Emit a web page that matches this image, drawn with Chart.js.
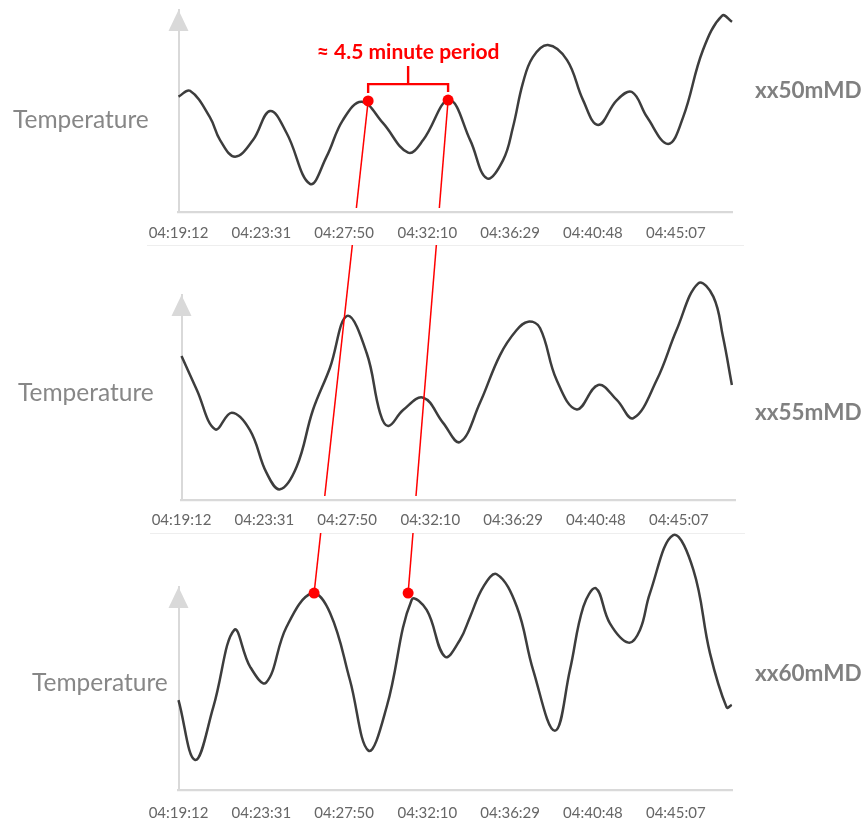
<!DOCTYPE html>
<html>
<head>
<meta charset="utf-8">
<title>Temperature oscillation at three depths</title>
<script src="https://cdn.jsdelivr.net/npm/chart.js@4.4.1/dist/chart.umd.min.js"></script>
<style>
  html, body { margin: 0; padding: 0; background: #fff; }
  #stage { position: relative; width: 865px; height: 822px; overflow: hidden; background: #fff; }
  #stage canvas { position: absolute; left: 0; }
  .ytitle { position: absolute; font-family: Lato, "Open Sans", sans-serif; font-size: 24.5px; color: #878787; line-height: 1; white-space: nowrap; }
  .series { position: absolute; font-family: Lato, "Open Sans", sans-serif; font-weight: bold; font-size: 22.5px; color: #808080; line-height: 1; white-space: nowrap; }
  .sep { position: absolute; height: 1px; background: #eeeeee; }
  #links { pointer-events: none; }
</style>
</head>
<body>
<div id="stage">
  <div class="sep" style="left:147px; top:245px; width:597px;"></div>
  <div class="sep" style="left:150px; top:533px; width:595px;"></div>
  <canvas id="c1" width="865" height="245" style="top:0px"></canvas>
  <canvas id="c2" width="865" height="285" style="top:245px"></canvas>
  <canvas id="c3" width="865" height="289" style="top:533px"></canvas>
  <canvas id="links" width="865" height="822" style="top:0px"></canvas>
  <div class="ytitle" style="left:13px; top:107px;">Temperature</div>
  <div class="ytitle" style="left:18px; top:380px;">Temperature</div>
  <div class="ytitle" style="left:32px; top:670px;">Temperature</div>
  <div class="series" style="left:755px; top:79px;">xx50mMD</div>
  <div class="series" style="left:755px; top:401px;">xx55mMD</div>
  <div class="series" style="left:755px; top:662px;">xx60mMD</div>
</div>
<script>
// Time axis: elapsed seconds after the first labelled timestamp
const startTime = '04:19:12';
const tickLabels = ['04:19:12', '04:23:31', '04:27:50', '04:32:10', '04:36:29', '04:40:48', '04:45:07'];
const axisEndSecs = 1732;

// xx50mMD sensor (relative temperature units)
const secs50 = [0, 36, 98, 130, 177, 233, 286, 338, 411, 463, 514, 573, 639, 718, 765, 846, 912, 964, 1015, 1046, 1077, 1108, 1155, 1215, 1265, 1312, 1371, 1418, 1465, 1531, 1578, 1640, 1700, 1731];
const temp50 = [57.1, 60.0, 47.0, 35.6, 27.4, 35.6, 50.0, 39.1, 13.9, 27.4, 45.5, 54.6, 44.1, 29.4, 35.6, 55.4, 35.6, 16.7, 25.7, 42.1, 63.9, 76.7, 82.7, 75.2, 55.4, 43.1, 55.4, 59.4, 47.0, 33.7, 47.0, 80.2, 97.2, 94.2];
const peakSecs50 = [593, 843];
const peakTemp50 = [55.0, 55.4];

// xx55mMD sensor
const secs55 = [0, 48, 105, 157, 214, 266, 308, 360, 411, 464, 518, 579, 621, 647, 693, 756, 818, 871, 933, 996, 1048, 1084, 1121, 1173, 1236, 1303, 1361, 1413, 1486, 1548, 1616, 1663, 1693, 1721];
const temp55 = [70.2, 53.7, 34.5, 42.6, 34.1, 13.2, 5.2, 16.2, 43.9, 64.4, 89.8, 71.7, 42.4, 36.1, 43.9, 49.9, 37.6, 28.3, 47.3, 70.7, 82.9, 87.0, 83.9, 58.5, 44.2, 56.1, 48.8, 39.9, 58.5, 82.9, 105.7, 99.2, 79.7, 56.1];

// xx60mMD sensor
const secs60 = [0, 52, 109, 174, 224, 274, 338, 417, 474, 536, 594, 651, 729, 776, 833, 880, 912, 953, 995, 1058, 1109, 1177, 1224, 1266, 1305, 1349, 1407, 1443, 1474, 1547, 1610, 1662, 1714, 1730];
const temp60 = [44.3, 14.8, 41.0, 78.8, 60.7, 52.9, 80.4, 96.9, 87.2, 54.2, 19.4, 41.0, 93.6, 88.7, 65.7, 73.9, 85.4, 100.1, 106.3, 90.3, 59.1, 29.2, 59.1, 90.3, 99.4, 82.1, 72.6, 78.8, 96.9, 125.6, 108.4, 67.3, 40.7, 41.9];
const peakSecs60 = [424, 718];
const peakTemp60 = [97.0, 97.0];

const periodText = '\u2248 4.5 minute period';

// ---------------------------------------------------------------------
function toSecs(hms) {
  const [h, m, s] = hms.split(':').map(Number);
  return h * 3600 + m * 60 + s;
}
const t0 = toSecs(startTime);
const tickSecs = tickLabels.map(l => toSecs(l) - t0);
const pts = (xs, ys) => xs.map((x, i) => ({ x: x, y: ys[i] }));

const LINE_COLOR = '#3d3d3d';
const AXIS_COLOR = '#d9d9d9';
const RED = '#ff0000';

// Light grey arrow head on top of the vertical axis
const axisArrow = {
  id: 'axisArrow',
  afterDraw(chart) {
    const { ctx, chartArea } = chart;
    const x = chartArea.left, y = chartArea.top;
    ctx.save();
    ctx.fillStyle = AXIS_COLOR;
    ctx.beginPath();
    ctx.moveTo(x, y);
    ctx.lineTo(x + 10, y + 21);
    ctx.lineTo(x - 10, y + 21);
    ctx.closePath();
    ctx.fill();
    ctx.restore();
  }
};

// Bracket + caption spanning the two marked peaks of the top panel
const periodBracket = {
  id: 'periodBracket',
  afterDatasetsDraw(chart) {
    const meta = chart.getDatasetMeta(0);
    if (!meta || meta.data.length < 2) return;
    const a = meta.data[0], b = meta.data[1];
    const { ctx } = chart;
    const yb = Math.min(a.y, b.y) - 16;
    const xm = (a.x + b.x) / 2;
    ctx.save();
    ctx.strokeStyle = RED;
    ctx.lineWidth = 2.4;
    ctx.lineJoin = 'miter';
    ctx.beginPath();
    ctx.moveTo(a.x, a.y - 8);
    ctx.lineTo(a.x, yb);
    ctx.lineTo(b.x, yb);
    ctx.lineTo(b.x, b.y - 8);
    ctx.moveTo(xm, yb);
    ctx.lineTo(xm, yb - 18);
    ctx.stroke();
    ctx.fillStyle = RED;
    ctx.font = 'bold 21px Lato, "Open Sans", sans-serif';
    ctx.textAlign = 'center';
    ctx.textBaseline = 'middle';
    ctx.fillText(periodText, xm, yb - 32);
    ctx.restore();
  }
};

function makePanel(canvasId, series, peaks, cfg) {
  const datasets = [];
  if (peaks) {
    datasets.push({
      type: 'scatter',
      data: peaks,
      pointRadius: 5.5,
      pointBackgroundColor: RED,
      pointBorderWidth: 0,
      showLine: false,
      clip: false
    });
  }
  datasets.push({
    type: 'line',
    data: series,
    borderColor: LINE_COLOR,
    borderWidth: 2.5,
    pointRadius: 0,
    tension: 0.4,
    fill: false,
    clip: false
  });
  return new Chart(document.getElementById(canvasId), {
    type: 'line',
    data: { datasets: datasets },
    options: {
      responsive: false,
      animation: false,
      events: [],
      layout: { padding: cfg.padding },
      plugins: { legend: { display: false }, tooltip: { enabled: false }, title: { display: false } },
      scales: {
        x: {
          type: 'linear',
          min: 0,
          max: axisEndSecs,
          grid: { display: false, drawTicks: false },
          border: { display: true, color: AXIS_COLOR, width: 2.2 },
          afterFit(scale) { scale.height = cfg.axisHeight; },
          afterBuildTicks(scale) { scale.ticks = tickSecs.map(v => ({ value: v })); },
          ticks: {
            autoSkip: false,
            maxRotation: 0,
            minRotation: 0,
            padding: cfg.tickPad,
            color: '#666666',
            font: { family: 'Lato, "Open Sans", sans-serif', size: 15 },
            callback(v) {
              const i = tickSecs.indexOf(v);
              return i >= 0 ? tickLabels[i] : '';
            }
          }
        },
        y: {
          type: 'linear',
          min: 0,
          max: 100,
          grid: { display: false, drawTicks: false },
          border: { display: true, color: AXIS_COLOR, width: 2 },
          ticks: { display: false },
          afterFit(scale) { scale.width = 0; }
        }
      }
    },
    plugins: cfg.extraPlugins ? [axisArrow].concat(cfg.extraPlugins) : [axisArrow]
  });
}

const panelTops = [0, 245, 533];

const chart50 = makePanel('c1', pts(secs50, temp50), pts(peakSecs50, peakTemp50), {
  padding: { left: 178.5, right: 865 - 732.4, top: 10, bottom: 0 },
  axisHeight: 33, tickPad: 12, extraPlugins: [periodBracket]
});
const chart55 = makePanel('c2', pts(secs55, temp55), null, {
  padding: { left: 181.5, right: 865 - 735.4, top: 50, bottom: 0 },
  axisHeight: 30, tickPad: 11
});
const chart60 = makePanel('c3', pts(secs60, temp60), pts(peakSecs60, peakTemp60), {
  padding: { left: 178.5, right: 865 - 732.4, top: 54, bottom: 0 },
  axisHeight: 32, tickPad: 14
});

// Red guide lines linking the matching peaks of the top and bottom panels;
// they show only inside each panel's plotting band, not over the time labels.
(function drawLinks() {
  const charts = [chart50, chart55, chart60];
  const cv = document.getElementById('links');
  const ctx = cv.getContext('2d');
  const top = chart50.getDatasetMeta(0).data;
  const bot = chart60.getDatasetMeta(0).data;
  const bands = charts.map((c, k) => [panelTops[k], panelTops[k] + c.chartArea.bottom - 4]);
  for (let i = 0; i < top.length; i++) {
    const x1 = top[i].x, y1 = top[i].y + panelTops[0];
    const x2 = bot[i].x, y2 = bot[i].y + panelTops[2];
    bands.forEach(([b0, b1]) => {
      ctx.save();
      ctx.beginPath();
      ctx.rect(0, b0, 865, b1 - b0);
      ctx.clip();
      ctx.strokeStyle = RED;
      ctx.lineWidth = 1.5;
      ctx.beginPath();
      ctx.moveTo(x1, y1);
      ctx.lineTo(x2, y2);
      ctx.stroke();
      ctx.restore();
    });
  }
})();
</script>
</body>
</html>
